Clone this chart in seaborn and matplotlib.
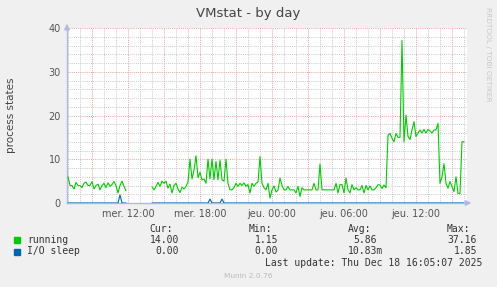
import numpy as np
import pandas as pd
import matplotlib
matplotlib.use("Agg")
import matplotlib.pyplot as plt
import matplotlib.dates as mdates
from matplotlib.ticker import FuncFormatter, MultipleLocator
from matplotlib.patches import Rectangle
import seaborn as sns

nan = np.nan

# 10-minute samples starting Wed 2025-12-17 07:00 (one row = one hour)
running = [
    6, 4, 4, 3.2, 4.7, 4,            # 07:00
    4, 3.5, 4.5, 4.8, 4, 4,          # 08:00
    4.9, 3.2, 4, 4.3, 3, 4,          # 09:00
    4.5, 3.5, 4.6, 3.8, 4.2, 4.9,    # 10:00
    4, 2.3, 4, 5, 3.8, 2.8,          # 11:00
    nan, nan, nan, nan, nan, nan,    # 12:00
    nan, nan, nan, nan, nan, nan,    # 13:00
    3.7, 3, 3.8, 4.7, 3.8, 5,        # 14:00
    4.5, 5, 3.4, 4.3, 2.3, 4,        # 15:00
    4.5, 3.2, 2.4, 3.6, 3.2, 3.8,    # 16:00
    4.8, 10, 5.5, 7.5, 10.8, 5.8,    # 17:00
    7, 5.3, 5.5, 4.5, 10, 5.5,       # 18:00
    10, 5.3, 9.5, 5.3, 9.8, 5.3,     # 19:00
    5, 10, 4.5, 3, 3, 3.5,           # 20:00
    4.5, 3.8, 4.5, 4, 4.6, 3.8,      # 21:00
    4.2, 2.3, 4.5, 3.8, 4.5, 4.8,    # 22:00
    10.6, 4.5, 3.5, 3, 4.5, 1.15,    # 23:00
    3, 3.9, 2.5, 3, 5.7, 4,          # Thu 00:00
    3, 3, 3.8, 3, 3, 3,              # 01:00
    2.3, 3.8, 1.5, 3.5, 3, 3,        # 02:00
    3, 3, 3, 4.5, 3, 3,              # 03:00
    8.9, 3, 3, 3, 3, 3,              # 04:00
    3, 3, 4.5, 2.3, 4.2, 4.2,        # 05:00
    2.3, 5.7, 3, 2.3, 4.2, 3,        # 06:00
    3.5, 3, 3, 4, 2.3, 4,            # 07:00
    3, 3.9, 3, 3, 3.5, 4.2,          # 08:00
    4.1, 3.3, 4.1, 3.5, 15.5, 15.9,  # 09:00
    14.8, 14, 15.9, 15, 15, 37.16,   # 10:00
    14, 20.1, 15.2, 14.5, 16.7, 18.6,  # 11:00
    15.2, 16, 16.7, 16, 16.8, 16,    # 12:00
    16.8, 16.5, 16, 16.7, 16.7, 18.2,  # 13:00
    4.5, 6, 9, 4.5, 3.4, 4.9,        # 14:00
    3.7, 2.6, 6, 2.2, 2.2, 14,       # 15:00
    14,                              # 16:00
]

io_sleep = [
    0, 0, 0, 0, 0, 0,
    0, 0, 0, 0, 0, 0,
    0, 0, 0, 0, 0, 0,
    0, 0, 0, 0, 0, 0,
    0, 0, 1.85, 0, 0, 0,
    nan, nan, nan, nan, nan, nan,
    nan, nan, nan, nan, nan, nan,
    0, 0, 0, 0, 0, 0,
    0, 0, 0, 0, 0, 0,
    0, 0, 0, 0, 0, 0,
    0, 0, 0, 0, 0, 0,
    0, 0, 0, 0, 0, 0.9,
    0, 0, 0, 0, 0, 0.9,
    0, 0, 0, 0, 0, 0,
    0, 0, 0, 0, 0, 0,
    0, 0, 0, 0, 0, 0,
    0, 0, 0, 0, 0, 0,
    0, 0, 0, 0, 0, 0,
    0, 0, 0, 0, 0, 0,
    0, 0, 0, 0, 0, 0,
    0, 0, 0, 0, 0, 0,
    0, 0, 0, 0, 0, 0,
    0, 0, 0, 0, 0, 0,
    0, 0, 0, 0, 0, 0,
    0, 0, 0, 0, 0, 0,
    0, 0, 0, 0, 0, 0,
    0, 0, 0, 0, 0, 0,
    0, 0, 0, 0, 0, 0,
    0, 0, 0, 0, 0, 0,
    0, 0, 0, 0, 0, 0,
    0, 0, 0, 0, 0, 0,
    0, 0, 0, 0, 0, 0,
    0, 0, 0, 0, 0, 0,
    0,
]

start_time = "2025-12-17 07:00"
x_start = "2025-12-17 06:55"
x_end = "2025-12-18 16:15"

series_names = ["running", "I/O sleep"]
series_colors = ["#00cc00", "#0066b3"]
cur_vals = ["14.00", "0.00"]
min_vals = ["1.15", "0.00"]
avg_vals = ["5.86", "10.83m"]
max_vals = ["37.16", "1.85"]

title = "VMstat - by day"
y_label = "process states"
last_update = "Last update: Thu Dec 18 16:05:07 2025"
footer = "Munin 2.0.76"
side_text = "RRDTOOL / TOBI OETIKER"
weekday_fr = ["lun.", "mar.", "mer.", "jeu.", "ven.", "sam.", "dim."]

times = pd.date_range(start_time, periods=len(running), freq="10min")

sns.set_style("white")
plt.rcParams["font.family"] = ["DejaVu Sans"]

W, H = 497, 287
fig = plt.figure(figsize=(W / 100, H / 100), dpi=100, facecolor="#f0f0f0")
ax = fig.add_axes([67 / W, 1 - 203 / H, 400 / W, 175 / H])
ax.set_facecolor("white")

for name, vals, color in zip(series_names, [running, io_sleep], series_colors):
    df = pd.DataFrame({"time": times, "value": vals})
    df["seg"] = df["value"].isna().cumsum()
    df = df.dropna()
    sns.lineplot(data=df, x="time", y="value", units="seg", estimator=None,
                 color=color, lw=0.8, ax=ax, legend=False, zorder=3)

ax.set_xlim(pd.Timestamp(x_start), pd.Timestamp(x_end))
ax.set_ylim(0, 40)
ax.set_xlabel("")
ax.set_ylabel("")


def fmt_time(x, pos):
    d = mdates.num2date(x)
    if d.hour % 6 == 0 and d.minute == 0:
        return f"{weekday_fr[d.weekday()]} {d:%H:%M}"
    return ""


grid_major = "#eea0a0"
grid_minor = "#c8c8c8"
ax.xaxis.set_major_locator(mdates.HourLocator(byhour=range(0, 24, 3)))
ax.xaxis.set_minor_locator(mdates.HourLocator())
ax.xaxis.set_major_formatter(FuncFormatter(fmt_time))
ax.yaxis.set_major_locator(MultipleLocator(10))
ax.yaxis.set_minor_locator(MultipleLocator(2))
ax.set_axisbelow(True)
ax.grid(which="minor", color=grid_minor, ls=(0, (1, 1.2)), lw=0.7)
ax.grid(which="major", color=grid_major, ls=(0, (1, 1.2)), lw=0.7)
ax.tick_params(which="major", length=2, width=0.7, color=grid_major)
ax.tick_params(which="minor", length=1.5, width=0.7, color=grid_minor)
ax.tick_params(axis="x", labelsize=7, labelcolor="#555555", pad=2.5)
ax.tick_params(axis="y", labelsize=7, labelcolor="#555555", pad=2.5)

for s in ["top", "right"]:
    ax.spines[s].set_visible(False)
axis_col = "#b0b8e8"
for s in ["left", "bottom"]:
    ax.spines[s].set_color(axis_col)
    ax.spines[s].set_linewidth(1.0)
    ax.spines[s].set_zorder(2.5)

ax.annotate("", xy=(1.018, 0), xytext=(0.99, 0), xycoords="axes fraction",
            arrowprops=dict(arrowstyle="-|>", color=axis_col, lw=1, mutation_scale=8),
            annotation_clip=False)
ax.annotate("", xy=(0, 1.04), xytext=(0, 0.99), xycoords="axes fraction",
            arrowprops=dict(arrowstyle="-|>", color=axis_col, lw=1, mutation_scale=8),
            annotation_clip=False)


def fx(px):
    return px / W


def fy(py):
    return 1 - py / H


fig.text(fx(248), fy(14), title, ha="center", va="center", fontsize=9.5, color="#444444")
fig.text(fx(11), fy(115), y_label, ha="center", va="center", rotation=90,
         fontsize=7.5, color="#444444")
fig.text(fx(488), fy(54), side_text, ha="center", va="center", rotation=270,
         fontsize=5.3, color="#c8c8c8")

mono = dict(family="DejaVu Sans Mono", fontsize=7, color="#333333", va="center")
fig.text(fx(149), fy(228.5), "Cur:", **mono)
fig.text(fx(249), fy(228.5), "Min:", **mono)
fig.text(fx(348), fy(228.5), "Avg:", **mono)
fig.text(fx(447), fy(228.5), "Max:", **mono)

row_y = [240, 251.5]
for i, name in enumerate(series_names):
    y = row_y[i]
    fig.add_artist(Rectangle((fx(14), fy(y + 3)), 6 / W, 6 / H,
                             transform=fig.transFigure, color=series_colors[i]))
    fig.text(fx(27), fy(y), name, **mono)
    fig.text(fx(179), fy(y), cur_vals[i], ha="right", **mono)
    fig.text(fx(278), fy(y), min_vals[i], ha="right", **mono)
    av = avg_vals[i]
    fig.text(fx(377 + (6 if av.endswith("m") else 0)), fy(y), av, ha="right", **mono)
    fig.text(fx(477), fy(y), max_vals[i], ha="right", **mono)

fig.text(fx(482), fy(263.5), last_update, ha="right", **mono)
fig.text(fx(248), fy(276), footer, ha="center", va="center", fontsize=5.3, color="#bbbbbb")

fig.savefig("out.png", dpi=100, facecolor=fig.get_facecolor())
